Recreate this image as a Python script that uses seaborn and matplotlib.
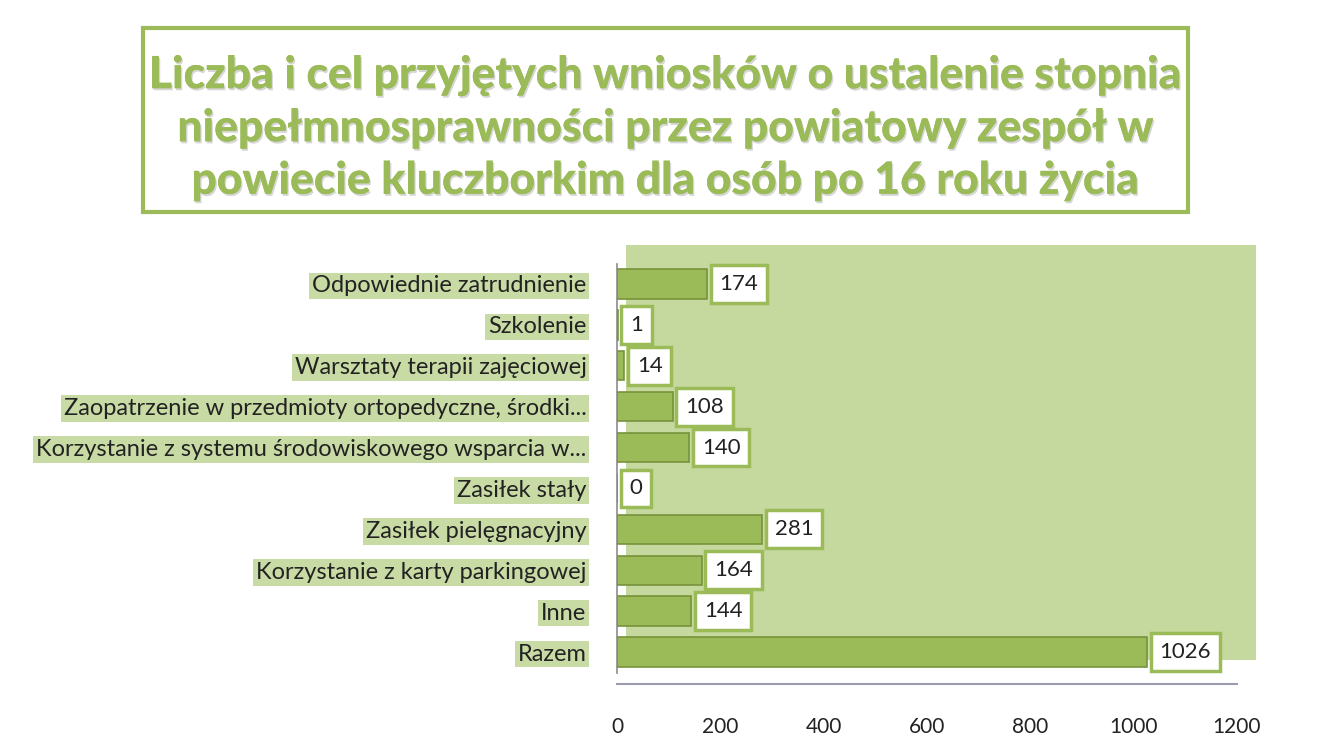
import matplotlib
matplotlib.use("Agg")
import matplotlib.pyplot as plt
import matplotlib.patheffects as pe
from matplotlib.patches import Rectangle
import seaborn as sns
import pandas as pd

categories = [
    "Odpowiednie zatrudnienie",
    "Szkolenie",
    "Warsztaty terapii zajęciowej",
    "Zaopatrzenie w przedmioty ortopedyczne, środki...",
    "Korzystanie z systemu środowiskowego wsparcia w...",
    "Zasiłek stały",
    "Zasiłek pielęgnacyjny",
    "Korzystanie z karty parkingowej",
    "Inne",
    "Razem",
]
values = [174, 1, 14, 108, 140, 0, 281, 164, 144, 1026]
x_ticks = [0, 200, 400, 600, 800, 1000, 1200]
title = ("Liczba i cel przyjętych wniosków o ustalenie stopnia\n"
         "niepełmnosprawności przez powiatowy zespół w\n"
         "powiecie kluczborkim dla osób po 16 roku życia")

GREEN = "#9bbb59"
DARK = "#77933c"
BG = "#c5d89d"
LABELBG = "#c9dba4"

sns.set_theme(style="white")
plt.rcParams["font.family"] = ["Lato", "DejaVu Sans"]

W, H = 1319, 736
fig = plt.figure(figsize=(W / 100, H / 100), dpi=100)

AX_L, AX_T, AX_R, AX_B = 617, 263.5, 1237, 672.5
ax = fig.add_axes([AX_L / W, 1 - AX_B / H, (AX_R - AX_L) / W, (AX_B - AX_T) / H])
ax.set_facecolor("none")

# 3D-like back wall, behind bars
bx0 = (626 - AX_L) / (AX_R - AX_L)
bx1 = (1256 - AX_L) / (AX_R - AX_L)
by0 = (AX_B - 660) / (AX_B - AX_T)
by1 = (AX_B - 245) / (AX_B - AX_T)
ax.add_patch(Rectangle((bx0, by0), bx1 - bx0, by1 - by0, transform=ax.transAxes,
                       facecolor=BG, edgecolor="none", zorder=0, clip_on=False))

df = pd.DataFrame({"cat": categories, "val": values})
sns.barplot(data=df, x="val", y="cat", orient="h", color=GREEN, saturation=1,
            width=0.72, edgecolor=DARK, linewidth=1.2, ax=ax, zorder=3)

ax.set_xlim(0, 1200)
ax.set_xticks(x_ticks)
ax.set_xlabel("")
ax.set_ylabel("")
for s in ["top", "right"]:
    ax.spines[s].set_visible(False)
ax.spines["left"].set_color("#8c8c8c")
ax.spines["bottom"].set_color("#9a9ab0")
ax.spines["bottom"].set_position(("outward", 8))
ax.spines["left"].set_linewidth(1.2)
ax.spines["bottom"].set_linewidth(1.5)

ax.tick_params(axis="x", length=0, pad=24, labelsize=15, colors="#222222")
ax.tick_params(axis="y", length=0, pad=22, labelsize=17, colors="#222222")
for lab in ax.get_yticklabels():
    lab.set_bbox(dict(facecolor=LABELBG, edgecolor="none", pad=2))

for i, v in enumerate(values):
    ax.annotate(str(v), xy=(v, i), xytext=(9, 0), textcoords="offset points",
                va="center", ha="left", fontsize=16, color="#222222", zorder=5,
                bbox=dict(boxstyle="square,pad=0.4", facecolor="white",
                          edgecolor=GREEN, linewidth=2.5))

# title box
fig.patches.append(Rectangle((143 / W, 1 - 212 / H), (1188 - 143) / W, (212 - 28) / H,
                             transform=fig.transFigure, facecolor="white",
                             edgecolor=GREEN, linewidth=3, zorder=1))
fig.text(666 / W, 1 - 128 / H, title, ha="center", va="center", fontsize=32,
         fontweight="black", color=GREEN, linespacing=1.38, zorder=2,
         path_effects=[pe.withSimplePatchShadow(offset=(1, -1.5), shadow_rgbFace="#bbbbbb", alpha=0.6),
                       pe.Normal()])

fig.savefig("out.png", dpi=100, facecolor="white")
